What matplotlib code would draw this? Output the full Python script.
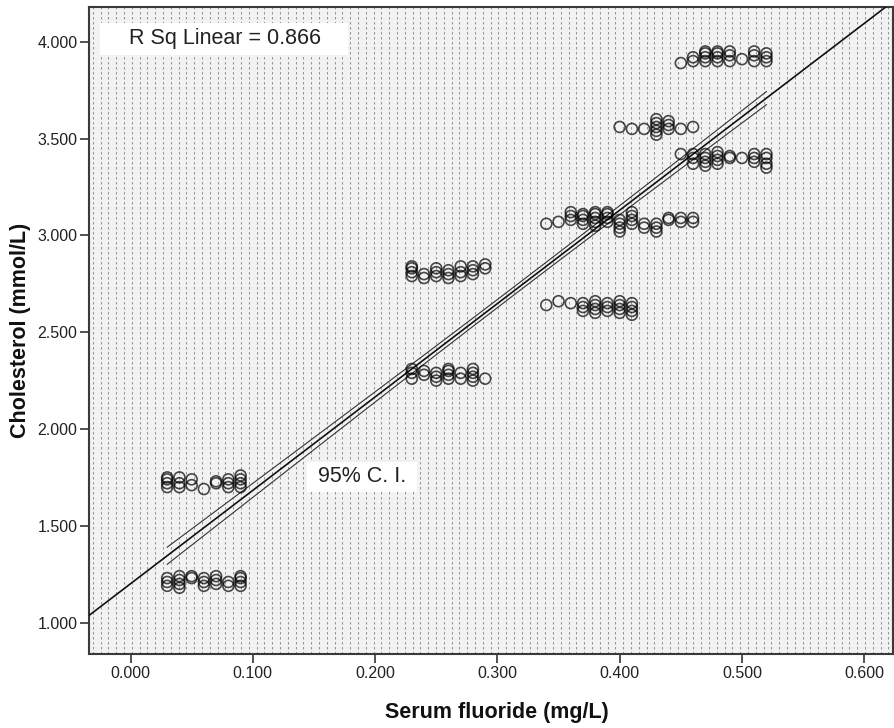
import matplotlib.pyplot as plt
import numpy as np

plt.rcParams["font.family"] = ["Liberation Sans", "DejaVu Sans"]

# fluoride levels (mg/L) of each column of circles, and the cholesterol
# readings (mmol/L) stacked in that column
fl_low = [0.03, 0.04, 0.05, 0.06, 0.07, 0.08, 0.09]
chol_low_top = [[1.70, 1.72, 1.74, 1.75], [1.70, 1.72, 1.75], [1.71, 1.74], [1.69],
                [1.72, 1.73], [1.70, 1.72, 1.74], [1.70, 1.72, 1.74, 1.76]]
chol_low_bottom = [[1.19, 1.21, 1.23], [1.18, 1.20, 1.22, 1.24], [1.23, 1.24],
                   [1.19, 1.21, 1.23], [1.20, 1.22, 1.24], [1.19, 1.21],
                   [1.19, 1.21, 1.23, 1.24]]

fl_mid = [0.23, 0.24, 0.25, 0.26, 0.27, 0.28, 0.29]
chol_mid_top = [[2.79, 2.81, 2.83, 2.84], [2.78, 2.80], [2.79, 2.81, 2.83],
                [2.78, 2.80, 2.82], [2.79, 2.81, 2.84], [2.80, 2.82, 2.84], [2.83, 2.85]]
chol_mid_bottom = [[2.26, 2.29, 2.31], [2.28, 2.30], [2.25, 2.27, 2.29],
                   [2.26, 2.28, 2.30, 2.31], [2.26, 2.29], [2.25, 2.27, 2.29, 2.31],
                   [2.26]]

fl_high = [0.34, 0.35, 0.36, 0.37, 0.38, 0.39, 0.40, 0.41, 0.42, 0.43, 0.44, 0.45, 0.46]
chol_high = [[3.06], [3.07], [3.08, 3.10, 3.12], [3.06, 3.08, 3.10, 3.11],
             [3.05, 3.07, 3.09, 3.11, 3.12], [3.07, 3.09, 3.11, 3.12],
             [3.02, 3.04, 3.06, 3.08], [3.06, 3.08, 3.10, 3.12], [3.04, 3.06],
             [3.02, 3.04, 3.06], [3.08, 3.09], [3.07, 3.09], [3.07, 3.09]]

fl_high_low = [0.34, 0.35, 0.36, 0.37, 0.38, 0.39, 0.40, 0.41]
chol_high_low = [[2.64], [2.66], [2.65], [2.61, 2.63, 2.65], [2.60, 2.62, 2.64, 2.66],
                 [2.61, 2.63, 2.65], [2.60, 2.62, 2.64, 2.66], [2.59, 2.61, 2.63, 2.65]]

fl_peak = [0.40, 0.41, 0.42, 0.43, 0.44, 0.45, 0.46]
chol_peak = [[3.56], [3.55], [3.55], [3.52, 3.54, 3.56, 3.58, 3.60],
             [3.55, 3.57, 3.59], [3.55], [3.56]]

fl_top = [0.45, 0.46, 0.47, 0.48, 0.49, 0.50, 0.51, 0.52]
chol_top_upper = [[3.89], [3.90, 3.92], [3.90, 3.92, 3.94, 3.95], [3.90, 3.92, 3.94, 3.95],
                  [3.90, 3.93, 3.95], [3.91], [3.90, 3.93, 3.95], [3.90, 3.92, 3.94]]
chol_top_lower = [[3.42], [3.37, 3.40, 3.42], [3.36, 3.38, 3.40, 3.42],
                  [3.37, 3.39, 3.41, 3.43], [3.40, 3.41], [3.40], [3.38, 3.40, 3.42],
                  [3.35, 3.37, 3.40, 3.42]]

r_sq_text = "R Sq Linear = 0.866"
# many circles sit exactly on top of each other, so each visible one
# stands for several readings (only matters for the CI width)
overlap = 4

groups = [(fl_low, chol_low_top), (fl_low, chol_low_bottom),
          (fl_mid, chol_mid_top), (fl_mid, chol_mid_bottom),
          (fl_high, chol_high), (fl_high_low, chol_high_low),
          (fl_peak, chol_peak), (fl_top, chol_top_upper), (fl_top, chol_top_lower)]
x, y = [], []
for levels, columns in groups:
    for lev, vals in zip(levels, columns):
        x += [lev] * len(vals)
        y += vals
x = np.array(x)
y = np.array(y)

# least squares fit and 95% CI of the mean
slope, intercept = np.polyfit(x, y, 1)
n = len(x) * overlap
resid = y - (intercept + slope * x)
s = np.sqrt(np.sum(resid ** 2) * overlap / (n - 2))
sxx = np.sum((x - x.mean()) ** 2) * overlap
t_crit = 1.963

fig = plt.figure(figsize=(8.94, 7.28), dpi=100)
ax = fig.add_axes([89.3 / 894, 1 - 654 / 728, 803.7 / 894, 646.7 / 728])
ax.set_facecolor("#f2f2f2")
ax.set_xlim(-0.0337, 0.6235)
ax.set_ylim(0.838, 4.178)

# dotted fill of the plot area
ax.vlines(np.arange(3.5, 803, 7.8) / 803.7, 0, 1, transform=ax.transAxes,
          colors="#959595", linewidth=0.75, linestyles=(0, (2.4, 2.4)), zorder=0)

xx = np.linspace(*ax.get_xlim(), 50)
ax.plot(xx, intercept + slope * xx, color="#111111", linewidth=1.2, zorder=3)
xc = np.linspace(x.min(), x.max(), 50)
half = t_crit * s * np.sqrt(1 / n + (xc - x.mean()) ** 2 / sxx)
ax.plot(xc, intercept + slope * xc + half, color="#333333", linewidth=0.8, zorder=3)
ax.plot(xc, intercept + slope * xc - half, color="#333333", linewidth=0.8, zorder=3)

ax.scatter(x, y, s=62, facecolors="none", edgecolors="black", linewidths=1.2,
           alpha=0.7, zorder=4)

ax.add_patch(plt.Rectangle((0.0133, 0.926), 0.309, 0.050, transform=ax.transAxes,
                           facecolor="white", edgecolor="none", zorder=2))
ax.text(0.169, 0.951, r_sq_text, transform=ax.transAxes, ha="center", va="center",
        fontsize=15.5, color="#222222", zorder=5)
ax.add_patch(plt.Rectangle((0.271, 0.2505), 0.137, 0.0465, transform=ax.transAxes,
                           facecolor="white", edgecolor="none", zorder=2))
ax.text(0.339, 0.274, "95% C. I.", transform=ax.transAxes, ha="center", va="center",
        fontsize=15.5, color="#222222", zorder=5)

ticks_x = np.arange(0, 0.61, 0.1)
ticks_y = np.arange(1.0, 4.01, 0.5)
ax.set_xticks(ticks_x)
ax.set_xticklabels([f"{v:.3f}" for v in ticks_x])
ax.set_yticks(ticks_y)
ax.set_yticklabels([f"{v:.3f}" for v in ticks_y])
ax.tick_params(direction="out", length=6.5, width=1.2, color="#333333",
               labelsize=11.5, labelcolor="#222222", pad=2)
for sp in ax.spines.values():
    sp.set_color("#3a3a3a")
    sp.set_linewidth(1.5)

ax.set_xlabel("Serum fluoride (mg/L)", fontsize=15.5, fontweight="bold", va="center",
              color="#111111")
ax.xaxis.set_label_coords(0.507, -0.0897)
ax.set_ylabel("Cholesterol (mmol/L)", fontsize=15.5, fontweight="bold", va="center",
              color="#111111")
ax.yaxis.set_label_coords(-0.085, 0.5)

fig.savefig("out.png", dpi=100)
